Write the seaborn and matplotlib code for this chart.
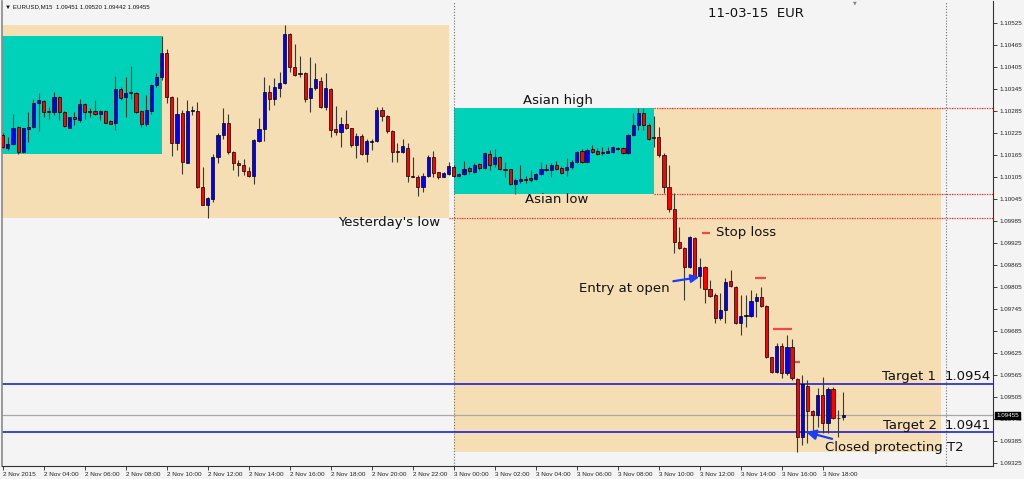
import numpy as np
import pandas as pd
import matplotlib
matplotlib.use("Agg")
import matplotlib.pyplot as plt
from matplotlib.patches import Rectangle
import seaborn as sns

# ---------------- data (EURUSD M15, bar 0 = 2 Nov 02:00) ----------------
opens = [1.10219,1.10185,1.10195,1.10242,1.10174,1.10237,1.10242,1.10306,1.10312,1.10285,
         1.10282,1.10324,1.10283,1.10240,1.10268,1.10260,1.10305,1.10286,1.10286,1.10276,
         1.10286,1.10258,1.10251,1.10344,1.10324,1.10338,1.10335,1.10285,1.10249,1.10286,
         1.10355,1.10377,1.10442,1.10324,1.10198,1.10280,1.10144,1.10284,1.10286,1.10078,
         1.10030,1.10044,1.10160,1.10219,1.10251,1.10174,1.10144,1.10137,1.10122,1.10108,
         1.10204,1.10235,1.10336,1.10318,1.10349,1.10362,1.10495,1.10404,1.10388,1.10390,
         1.10321,1.10347,1.10367,1.10297,1.10345,1.10236,1.10228,1.10249,1.10238,1.10192,
         1.10217,1.10169,1.10201,1.10204,1.10288,1.10271,1.10230,1.10176,1.10174,1.10185,
         1.10109,1.10106,1.10078,1.10108,1.10160,1.10118,1.10106,1.10113,1.10133,1.10108,
         1.10113,1.10129,1.10120,1.10140,1.10129,1.10168,1.10140,1.10160,1.10126,1.10126,
         1.10086,1.10093,1.10098,1.10101,1.10099,1.10113,1.10123,1.10124,1.10138,1.10130,
         1.10124,1.10133,1.10147,1.10176,1.10147,1.10181,1.10175,1.10170,1.10171,1.10173,
         1.10182,1.10183,1.10170,1.10220,1.10246,1.10279,1.10247,1.10214,1.10214,1.10165,
         1.10078,1.10018,1.09928,1.09911,1.09860,1.09939,1.09835,1.09860,1.09800,1.09783,
         1.09720,1.09742,1.09821,1.09805,1.09707,1.09727,1.09726,1.09767,1.09778,1.09753,
         1.09614,1.09573,1.09644,1.09570,1.09641,1.09554,1.09396,1.09535,1.09467,1.09456,
         1.09510,1.09434,1.09527,1.09449,1.09451]
highs = [1.10224,1.10215,1.10278,1.10244,1.10240,1.10283,1.10317,1.10335,1.10315,1.10295,
         1.10338,1.10326,1.10286,1.10269,1.10283,1.10318,1.10306,1.10292,1.10315,1.10288,
         1.10288,1.10260,1.10380,1.10351,1.10377,1.10408,1.10338,1.10288,1.10329,1.10358,
         1.10388,1.10489,1.10453,1.10326,1.10324,1.10288,1.10315,1.10300,1.10310,1.10133,
         1.10051,1.10169,1.10224,1.10292,1.10276,1.10176,1.10151,1.10153,1.10133,1.10210,
         1.10265,1.10377,1.10356,1.10374,1.10392,1.10519,1.10497,1.10468,1.10435,1.10392,
         1.10431,1.10417,1.10378,1.10389,1.10348,1.10298,1.10269,1.10289,1.10240,1.10226,
         1.10222,1.10210,1.10210,1.10295,1.10297,1.10274,1.10233,1.10197,1.10210,1.10197,
         1.10160,1.10110,1.10115,1.10165,1.10176,1.10119,1.10119,1.10147,1.10138,1.10115,
         1.10150,1.10135,1.10142,1.10142,1.10174,1.10179,1.10181,1.10162,1.10147,1.10128,
         1.10101,1.10138,1.10108,1.10124,1.10117,1.10147,1.10140,1.10142,1.10150,1.10135,
         1.10156,1.10151,1.10177,1.10181,1.10183,1.10192,1.10183,1.10188,1.10188,1.10190,
         1.10188,1.10186,1.10222,1.10279,1.10292,1.10292,1.10251,1.10271,1.10241,1.10170,
         1.10138,1.10061,1.09969,1.09914,1.09944,1.09941,1.09884,1.09862,1.09824,1.09789,
         1.09789,1.09830,1.09851,1.09808,1.09783,1.09783,1.09797,1.09789,1.09805,1.09756,
         1.09614,1.09652,1.09652,1.09674,1.09663,1.09557,1.09565,1.09551,1.09470,1.09530,
         1.09560,1.09532,1.09532,1.09470,1.09520]
lows =  [1.10183,1.10180,1.10192,1.10169,1.10171,1.10201,1.10240,1.10231,1.10269,1.10262,
         1.10273,1.10260,1.10242,1.10239,1.10247,1.10256,1.10262,1.10269,1.10274,1.10260,
         1.10251,1.10249,1.10233,1.10315,1.10269,1.10319,1.10280,1.10242,1.10244,1.10277,
         1.10351,1.10369,1.10308,1.10162,1.10178,1.10113,1.10142,1.10275,1.10074,1.10028,
         1.09992,1.10038,1.10142,1.10210,1.10167,1.10124,1.10108,1.10110,1.10106,1.10085,
         1.10201,1.10204,1.10288,1.10301,1.10324,1.10360,1.10392,1.10380,1.10378,1.10310,
         1.10283,1.10342,1.10293,1.10289,1.10215,1.10219,1.10186,1.10235,1.10188,1.10156,
         1.10165,1.10147,1.10178,1.10201,1.10258,1.10224,1.10147,1.10147,1.10171,1.10092,
         1.10104,1.10053,1.10065,1.10106,1.10106,1.10099,1.10104,1.10110,1.10104,1.10104,
         1.10110,1.10113,1.10115,1.10124,1.10126,1.10124,1.10133,1.10124,1.10106,1.10083,
         1.10060,1.10088,1.10090,1.10092,1.10097,1.10110,1.10122,1.10104,1.10124,1.10113,
         1.10108,1.10128,1.10144,1.10144,1.10144,1.10170,1.10164,1.10165,1.10170,1.10170,
         1.10179,1.10168,1.10168,1.10217,1.10233,1.10233,1.10206,1.10187,1.10160,1.10061,
         1.10010,1.09898,1.09909,1.09770,1.09857,1.09832,1.09802,1.09761,1.09778,1.09707,
         1.09715,1.09707,1.09805,1.09705,1.09674,1.09696,1.09723,1.09723,1.09750,1.09611,
         1.09570,1.09570,1.09557,1.09565,1.09551,1.09355,1.09374,1.09380,1.09415,1.09423,
         1.09407,1.09407,1.09445,1.09396,1.09442]
closes = [1.10188,1.10195,1.10240,1.10174,1.10238,1.10242,1.10306,1.10315,1.10283,1.10281,
          1.10324,1.10283,1.10244,1.10268,1.10262,1.10305,1.10283,1.10282,1.10276,1.10284,
          1.10253,1.10250,1.10344,1.10321,1.10333,1.10333,1.10283,1.10249,1.10288,1.10356,
          1.10377,1.10442,1.10324,1.10198,1.10278,1.10147,1.10286,1.10288,1.10078,1.10030,
          1.10047,1.10160,1.10219,1.10251,1.10174,1.10142,1.10139,1.10122,1.10108,1.10206,
          1.10235,1.10338,1.10317,1.10351,1.10362,1.10495,1.10404,1.10383,1.10385,1.10318,
          1.10348,1.10371,1.10295,1.10347,1.10233,1.10229,1.10249,1.10238,1.10192,1.10217,
          1.10169,1.10204,1.10204,1.10288,1.10271,1.10230,1.10174,1.10173,1.10189,1.10108,
          1.10106,1.10078,1.10108,1.10160,1.10117,1.10106,1.10115,1.10135,1.10108,1.10113,
          1.10127,1.10121,1.10138,1.10129,1.10170,1.10139,1.10160,1.10126,1.10124,1.10086,
          1.10097,1.10099,1.10100,1.10096,1.10113,1.10126,1.10126,1.10139,1.10128,1.10115,
          1.10133,1.10147,1.10174,1.10147,1.10179,1.10173,1.10168,1.10173,1.10176,1.10186,
          1.10185,1.10170,1.10220,1.10246,1.10279,1.10247,1.10210,1.10211,1.10165,1.10078,
          1.10018,1.09928,1.09911,1.09860,1.09941,1.09835,1.09860,1.09800,1.09781,1.09720,
          1.09742,1.09819,1.09808,1.09707,1.09726,1.09729,1.09767,1.09778,1.09753,1.09614,
          1.09573,1.09644,1.09570,1.09641,1.09557,1.09396,1.09540,1.09467,1.09456,1.09510,
          1.09434,1.09527,1.09448,1.09447,1.09455]

xtick_bars = [0, 8, 16, 24, 32, 40, 48, 56, 64, 72, 80, 88, 96, 104, 112, 120, 128, 136, 144, 152, 160]
xtick_labels = ["2 Nov 2015", "2 Nov 04:00", "2 Nov 06:00", "2 Nov 08:00", "2 Nov 10:00",
                "2 Nov 12:00", "2 Nov 14:00", "2 Nov 16:00", "2 Nov 18:00", "2 Nov 20:00",
                "2 Nov 22:00", "3 Nov 00:00", "3 Nov 02:00", "3 Nov 04:00", "3 Nov 06:00",
                "3 Nov 08:00", "3 Nov 10:00", "3 Nov 12:00", "3 Nov 14:00", "3 Nov 16:00",
                "3 Nov 18:00"]
ytick_vals = [1.10525, 1.10465, 1.10405, 1.10345, 1.10285, 1.10225, 1.10165, 1.10105,
              1.10045, 1.09985, 1.09925, 1.09865, 1.09805, 1.09745, 1.09685, 1.09625,
              1.09565, 1.09505, 1.09445, 1.09385, 1.09325]

day_starts = [-8, 88]          # bar index of 2 Nov 00:00 and 3 Nov 00:00
day_ends = [87, 183]
asian_ends = [31, 127]         # 09:45 bar of each day
day_separators = [88, 184]
target1 = 1.0954
target2 = 1.0941
bid_price = 1.09455
stop_prices = [1.09952, 1.09830, 1.09691, 1.09601]
stop_from = [136.4, 146.8, 150.3, 154.6]
stop_to = [138.0, 149.0, 154.0, 155.6]
header = "\u25bc EURUSD,M15  1.09451 1.09520 1.09442 1.09455"

df = pd.DataFrame({"o": opens, "h": highs, "l": lows, "c": closes})
df["bar"] = np.arange(len(df))
df["bull"] = df["c"] >= df["o"]

# ---------------- style ----------------
sns.set_theme(style="white")
plt.rcParams["font.family"] = ["DejaVu Sans"]
SMALL = ["Liberation Sans", "DejaVu Sans"]
BG = "#F4F4F4"
WHEAT = "#F5DEB3"
TURQ = "#00D2BA"

fig = plt.figure(figsize=(10.24, 4.79), dpi=100, facecolor=BG)
W, H = 1024, 479
ax = fig.add_axes([2 / W, (H - 466) / H, 991 / W, 465 / H])
ax.set_facecolor(BG)

ax.set_xlim(-0.14, 193.2)
ax.set_ylim(1.09317, 1.10585)

# day range boxes and Asian-session boxes
bars = df["bar"].values
for ds, de, ae in zip(day_starts, day_ends, asian_ends):
    sel = (bars >= ds) & (bars <= de)
    hi, lo = df["h"][sel].max(), df["l"][sel].min()
    ax.add_patch(Rectangle((ds, lo), de - ds, hi - lo, facecolor=WHEAT, edgecolor="none", zorder=0.5))
    sel_a = (bars >= ds) & (bars <= ae)
    ahi, alo = df["h"][sel_a].max(), df["l"][sel_a].min()
    ax.add_patch(Rectangle((ds, alo), ae - ds, ahi - alo, facecolor=TURQ, edgecolor="none", zorder=0.6))

# levels from day 2 / Asian session of day 3
y_low = df["l"][(bars >= day_starts[0]) & (bars <= day_ends[0])].min()
sel_a3 = (bars >= day_starts[1]) & (bars <= asian_ends[1])
a_hi, a_lo = df["h"][sel_a3].max(), df["l"][sel_a3].min()
xr = ax.get_xlim()[1]
dots = (0, (1, 1))
ax.hlines([a_hi, a_lo], asian_ends[1], xr, colors="#FF2020", linestyles=dots, lw=0.9, zorder=1)
ax.hlines([y_low], day_ends[0], xr, colors="#FF2020", linestyles=dots, lw=0.9, zorder=1)

for xs in day_separators:
    ax.axvline(xs, color="#6E6E6E", ls=(0, (1, 1.6)), lw=0.8, zorder=1)

ax.axhline(target1, color="#1010D0", lw=1.1, zorder=1.2)
ax.axhline(target2, color="#1010D0", lw=1.1, zorder=1.2)
sns.lineplot(x=[ax.get_xlim()[0], xr], y=[bid_price, bid_price], ax=ax,
             color="#A8A8A8", lw=0.9, zorder=1.1)

# candles
ax.vlines(df["bar"], df["l"], df["h"], color="#3A3A32", lw=0.8, zorder=2)
body_bot = np.minimum(df["o"], df["c"])
body_h = np.maximum(np.abs(df["c"] - df["o"]), 0.000008)
cols = np.where(df["bull"], "#0000FF", "#FF0000")
ax.bar(df["bar"], body_h, bottom=body_bot, width=0.62, color=cols,
       edgecolor="black", linewidth=0.5, zorder=3)

# stop loss marks
ax.hlines(stop_prices, stop_from, stop_to, colors="#F04848", lw=1.6, zorder=3.5)

# annotations
tf = 9.5
ax.text(147.0, 1.10550, "11-03-15  EUR", fontsize=tf, ha="center", va="center", color="#111111", zorder=5)
ax.text(108.4, 1.10313, "Asian high", fontsize=tf, ha="center", va="center", color="#111111", zorder=5)
ax.text(108.0, 1.10045, "Asian low", fontsize=tf, ha="center", va="center", color="#111111", zorder=5)
ax.text(85.3, 1.09981, "Yesterday's low", fontsize=tf, ha="right", va="center", color="#111111", zorder=5)
ax.text(139.2, 1.09953, "Stop loss", fontsize=tf, ha="left", va="center", color="#111111", zorder=5)
ax.text(171.6, 1.09561, "Target 1", fontsize=tf, ha="left", va="center", color="#111111", zorder=5)
ax.text(192.8, 1.09561, f"{target1:.4f}", fontsize=tf, ha="right", va="center", color="#111111", zorder=5)
ax.text(171.8, 1.09427, "Target 2", fontsize=tf, ha="left", va="center", color="#111111", zorder=5)
ax.text(192.8, 1.09427, f"{target2:.4f}", fontsize=tf, ha="right", va="center", color="#111111", zorder=5)

arrow = dict(arrowstyle="-|>,head_length=0.5,head_width=0.25", color="#1A3CFF", lw=1.6, shrinkA=0, shrinkB=0)
ax.annotate("Entry at open", xy=(135.9, 1.09832), xytext=(130.2, 1.09800),
            fontsize=tf, ha="right", va="center", color="#111111", arrowprops=arrow, zorder=5)
ax.annotate("Closed protecting T2", xy=(156.7, 1.09410), xytext=(160.5, 1.09368),
            fontsize=tf, ha="left", va="center", color="#111111", zorder=5)
ax.annotate("", xy=(156.7, 1.09410), xytext=(161.8, 1.09391), arrowprops=arrow, zorder=5)

# axes styling
ax.spines["top"].set_visible(False)
ax.spines["left"].set_color("#8A8A8A")
ax.spines["left"].set_linewidth(1.2)
ax.spines["bottom"].set_color("#333333")
ax.spines["right"].set_color("#333333")
ax.spines["bottom"].set_linewidth(0.8)
ax.spines["right"].set_linewidth(0.8)

ax.yaxis.tick_right()
ax.set_yticks(ytick_vals)
ax.set_yticklabels([f"{v:.5f}" for v in ytick_vals], family=SMALL)
ax.tick_params(axis="y", which="both", right=True, left=False, length=3, width=0.6,
               pad=2, labelsize=4.5, colors="#222222", direction="out")
ax.set_xticks(xtick_bars)
ax.set_xticklabels(xtick_labels, family=SMALL)
ax.tick_params(axis="x", bottom=True, length=3, width=0.6, pad=1, labelsize=4.6,
               colors="#222222", direction="out")
for lab in ax.get_xticklabels():
    lab.set_horizontalalignment("left")
ax.grid(False)

# current price box on the price scale
ax.text(1.0032, bid_price, f"{bid_price:.5f}", transform=ax.get_yaxis_transform(),
        fontsize=4.5, family=SMALL, color="white", ha="left", va="center",
        bbox=dict(boxstyle="square,pad=0.2", fc="black", ec="black"), zorder=6, clip_on=False)

fig.text(5 / W, 1 - 7 / H, header, fontsize=4.4, family=SMALL, ha="left", va="center", color="#111111")
fig.text(855 / W, 1 - 3 / H, "\u25bc", fontsize=3.5, ha="center", va="center", color="#888888")

fig.savefig("out.png", dpi=100, facecolor=BG)
